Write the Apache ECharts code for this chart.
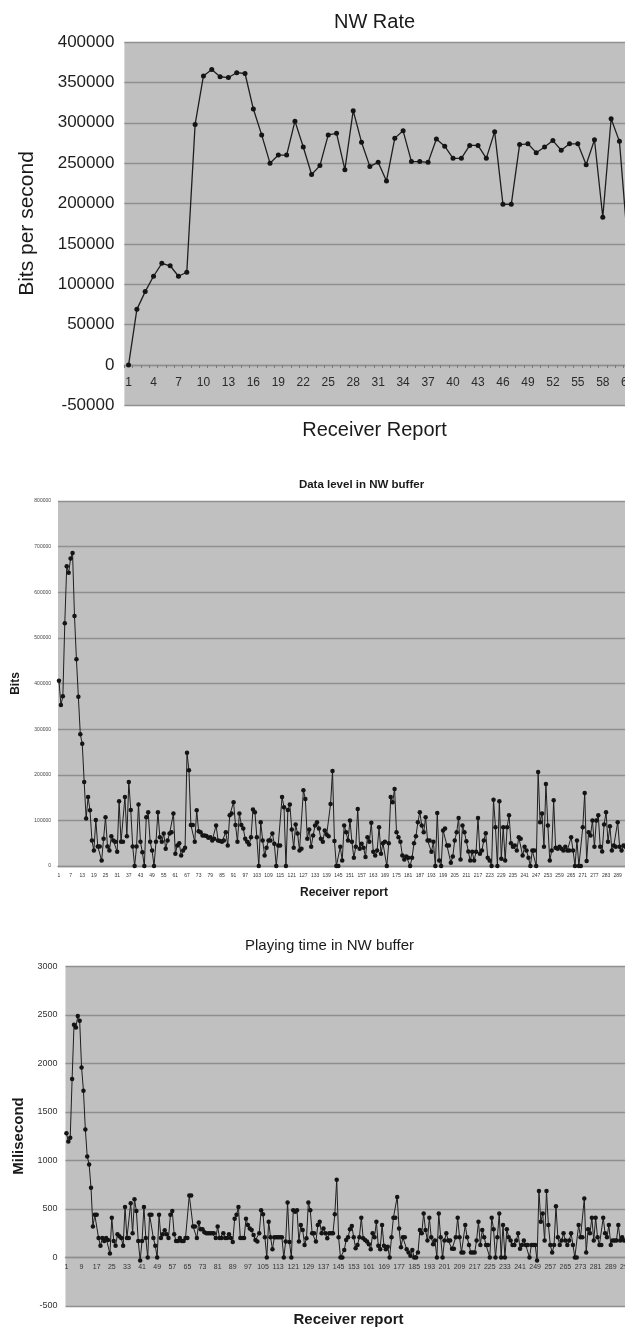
<!DOCTYPE html>
<html><head><meta charset="utf-8">
<script src="https://cdn.jsdelivr.net/npm/echarts@6/dist/echarts.min.js"></script>
<style>html,body{margin:0;padding:0;background:#fff}#c{width:625px;height:1330px}</style>
</head><body><div id="c"></div>
<script>
// ---------- Chart 1: NW Rate ----------
const nwRateReportCount = 70;
const nwRateReports = Array.from({length: nwRateReportCount}, (_, i) => String(i + 1));
const nwRate = [0, 69000, 91000, 110000, 126000, 123000, 110000, 115000, 298000, 358000,
  366000, 357000, 356000, 362000, 361000, 317000, 285000, 250000, 260000, 260000,
  302000, 270000, 236000, 247000, 285000, 287000, 242000, 315000, 276000, 246000,
  251000, 228000, 281000, 290000, 252000, 252000, 251000, 280000, 271000, 256000,
  256000, 272000, 272000, 256000, 289000, 199000, 199000, 273000, 274000, 263000,
  270000, 278000, 266000, 274000, 274000, 248000, 279000, 183000, 305000, 277000,
  150000];
const nwRateAxis = {min: -50000, max: 400000, step: 50000};

// ---------- Chart 2: Data level in NW buffer ----------
const bufferReportCount = 320;
const bufferReports = Array.from({length: bufferReportCount}, (_, i) => String(i + 1));
const bufferBits = [406000, 353000, 372000, 532000, 657000, 643000, 674000, 686000, 548000, 453000,
  371000, 289000, 268000, 184000, 104000, 151000, 122000, 56000, 34000, 101000,
  43000, 43000, 12000, 60000, 107000, 43000, 34000, 65000, 56000, 53000,
  31000, 142000, 53000, 53000, 151000, 65000, 184000, 123000, 43000, 0,
  43000, 135000, 53000, 30000, 0, 107000, 118000, 53000, 34000, 0,
  53000, 118000, 63000, 53000, 71000, 38000, 56000, 71000, 74000, 115000,
  27000, 45000, 50000, 23000, 34000, 40000, 248000, 210000, 90000, 90000,
  53000, 122000, 76000, 74000, 67000, 67000, 66000, 62000, 63000, 56000,
  60000, 89000, 56000, 55000, 53000, 56000, 74000, 45000, 111000, 115000,
  140000, 90000, 53000, 115000, 90000, 82000, 60000, 53000, 47000, 63000,
  124000, 118000, 63000, 0, 96000, 56000, 23000, 40000, 56000, 56000,
  71000, 49000, 0, 45000, 45000, 151000, 129000, 0, 123000, 135000,
  80000, 40000, 91000, 71000, 34000, 38000, 166000, 147000, 60000, 80000,
  42000, 67000, 89000, 96000, 82000, 60000, 53000, 78000, 69000, 65000,
  136000, 208000, 55000, 0, 0, 42000, 12000, 89000, 74000, 56000,
  100000, 53000, 18000, 42000, 125000, 38000, 49000, 40000, 20000, 63000,
  53000, 95000, 31000, 23000, 34000, 85000, 27000, 50000, 53000, 0,
  50000, 151000, 140000, 169000, 74000, 63000, 53000, 23000, 14000, 21000,
  18000, 0, 18000, 50000, 65000, 96000, 118000, 89000, 74000, 107000,
  56000, 56000, 31000, 53000, 0, 116000, 12000, 0, 78000, 82000,
  45000, 45000, 7000, 21000, 56000, 74000, 105000, 14000, 89000, 74000,
  54000, 32000, 12000, 31000, 12000, 31000, 105000, 27000, 34000, 56000,
  72000, 18000, 12000, 0, 145000, 85000, 0, 142000, 16000, 85000,
  12000, 85000, 111000, 50000, 42000, 45000, 34000, 63000, 60000, 23000,
  42000, 34000, 18000, 0, 34000, 34000, 0, 206000, 96000, 115000,
  42000, 180000, 89000, 12000, 34000, 144000, 40000, 38000, 42000, 38000,
  34000, 42000, 34000, 34000, 63000, 34000, 0, 56000, 0, 0,
  85000, 160000, 11000, 74000, 67000, 100000, 42000, 100000, 111000, 42000,
  32000, 91000, 118000, 53000, 87000, 34000, 45000, 42000, 96000, 42000,
  34000, 45000, 42000];
const bufferAxis = {min: 0, max: 800000, step: 100000};

// ---------- Chart 3: Playing time in NW buffer ----------
const playReportCount = 320;
const playReports = Array.from({length: playReportCount}, (_, i) => String(i + 1));
const playMs = [1280, 1195, 1235, 1840, 2400, 2370, 2490, 2440, 1960, 1720,
  1320, 1040, 960, 720, 320, 440, 440, 200, 120, 200,
  170, 200, 180, 40, 410, 170, 120, 240, 220, 200,
  120, 520, 200, 200, 560, 250, 600, 480, 170, -30,
  170, 520, 200, 0, 440, 440, 200, 120, 0, 440,
  200, 240, 280, 240, 200, 440, 480, 240, 170, 170,
  200, 170, 170, 200, 200, 640, 640, 320, 320, 200,
  360, 290, 290, 260, 250, 250, 250, 250, 250, 200,
  320, 200, 200, 250, 200, 200, 240, 200, 160, 400,
  440, 520, 200, 200, 200, 400, 334, 300, 283, 232,
  181, 164, 249, 488, 447, 208, 0, 369, 208, 85,
  208, 208, 208, 208, 208, 0, 164, 566, 160, 0,
  488, 471, 488, 164, 334, 283, 130, 198, 566, 488,
  249, 249, 164, 334, 369, 249, 300, 249, 198, 249,
  249, 249, 447, 802, 208, 0, 0, 78, 181, 208,
  290, 324, 208, 96, 130, 208, 410, 198, 181, 164,
  137, 85, 249, 208, 369, 120, 85, 334, 120, 85,
  110, 0, 208, 410, 410, 625, 300, 106, 208, 208,
  85, 51, 17, 78, 0, 0, 51, 283, 249, 454,
  283, 174, 410, 208, 137, 174, 0, 454, 208, 0,
  174, 249, 174, 174, 89, 89, 208, 410, 208, 51,
  51, 334, 208, 130, 51, 51, 51, 174, 369, 130,
  283, 208, 130, 130, 0, 410, 290, 0, 208, 454,
  0, 334, 0, 290, 208, 174, 130, 130, 174, 249,
  89, 130, 174, 130, 130, 0, 130, 130, 130, -30,
  686, 369, 454, 174, 686, 334, 130, 51, 130, 529,
  208, 130, 174, 249, 174, 130, 174, 249, 130, 0,
  0, 334, 208, 208, 608, 51, 290, 249, 410, 174,
  410, 208, 130, 130, 410, 249, 208, 334, 130, 174,
  174, 174, 334, 174, 208, 174];
const playAxis = {min: -500, max: 3000, step: 500};

// ---------- Texts ----------
const titles = ['NW Rate', 'Data level in NW buffer', 'Playing time in NW buffer'];
const yNames = ['Bits per second', 'Bits', 'Milisecond'];
const xNames = ['Receiver Report', 'Receiver report', 'Receiver report'];

const FONT = '"Liberation Sans", Arial, Helvetica, sans-serif';
const PLOT_BG = '#c0c0c0';
const GRID_LINE = '#8f8f8f';

// layout of the three plot areas (pixels)
const plots = [
  {left: 124.4, top: 42, width: 582.4, height: 363.5},
  {left: 58, top: 501, width: 620.8, height: 365},
  {left: 65.5, top: 966.5, width: 604.8, height: 339.5}
];
// distance from the bottom of a plot up to its value 0
function zeroLift(p, ax) {
  return p.height * (0 - ax.min) / (ax.max - ax.min);
}

function yAxisOf(idx, ax, fontSize, margin, color) {
  return {
    gridIndex: idx, type: 'value', min: ax.min, max: ax.max, interval: ax.step,
    axisLine: {show: false}, axisTick: {show: false},
    axisLabel: {fontSize: fontSize, color: color, margin: margin, fontFamily: FONT,
      formatter: function (v) { return String(v); }},
    splitLine: {show: true, lineStyle: {color: GRID_LINE, width: 1.4}}
  };
}
function xAxisOf(idx, cats, ax, every, fontSize, margin, color, tick) {
  return {
    gridIndex: idx, type: 'category', data: cats, boundaryGap: true,
    position: 'bottom', offset: -zeroLift(plots[idx], ax),
    axisLine: {onZero: false, lineStyle: {color: GRID_LINE, width: 1.4}},
    axisTick: tick ? {show: true, interval: 0, length: 3, lineStyle: {color: '#7a7a7a'}} : {show: false},
    axisLabel: {interval: every - 1, fontSize: fontSize, color: color, margin: margin, fontFamily: FONT,
      hideOverlap: false},
    splitLine: {show: false}
  };
}
function lineSeries(idx, data, size, width) {
  return {
    type: 'line', xAxisIndex: idx, yAxisIndex: idx, data: data,
    symbol: 'circle', symbolSize: size, showAllSymbol: true,
    itemStyle: {color: '#141414'}, lineStyle: {color: '#1e1e1e', width: width},
    emphasis: {disabled: true}
  };
}
function txt(text, x, y, size, weight, rot) {
  return {
    type: 'text', x: x, y: y, rotation: rot ? Math.PI / 2 : 0, silent: true,
    style: {text: text, fontSize: size, fontWeight: weight, fontFamily: FONT, fill: '#1a1a1a',
      align: 'center', verticalAlign: 'middle'}
  };
}
function gridOf(p) {
  return {left: p.left, top: p.top, width: p.width, height: p.height, show: true,
    backgroundColor: PLOT_BG, borderWidth: 0, containLabel: false, outerBoundsMode: 'none'};
}

const chart = echarts.init(document.getElementById('c'), null, {renderer: 'canvas'});
chart.setOption({
  animation: false,
  backgroundColor: '#ffffff',
  grid: plots.map(gridOf),
  xAxis: [
    xAxisOf(0, nwRateReports, nwRateAxis, 3, 12, 12, '#2a2a2a', true),
    xAxisOf(1, bufferReports, bufferAxis, 6, 5, 7, '#333', false),
    xAxisOf(2, playReports, playAxis, 8, 7, 6, '#333', false)
  ],
  yAxis: [
    yAxisOf(0, nwRateAxis, 17, 10, '#1e1e1e'),
    yAxisOf(1, bufferAxis, 5, 7, '#444'),
    yAxisOf(2, playAxis, 9, 8, '#333')
  ],
  series: [
    lineSeries(0, nwRate, 5, 1.3),
    lineSeries(1, bufferBits, 4.5, 1),
    lineSeries(2, playMs, 4.5, 1)
  ],
  graphic: [
    txt(titles[0], 374.5, 22, 20, 'normal', false),
    txt(yNames[0], 27, 223.5, 21, 'normal', true),
    txt(xNames[0], 374.5, 430, 20, 'normal', false),
    txt(titles[1], 361.5, 485, 11.5, 'bold', false),
    txt(yNames[1], 16, 683.5, 12, 'bold', true),
    txt(xNames[1], 344, 892.7, 12, 'bold', false),
    txt(titles[2], 329.5, 945.7, 15, 'normal', false),
    txt(yNames[2], 18.5, 1136, 15, 'bold', true),
    txt(xNames[2], 348.5, 1320, 15, 'bold', false)
  ]
});
</script></body></html>
